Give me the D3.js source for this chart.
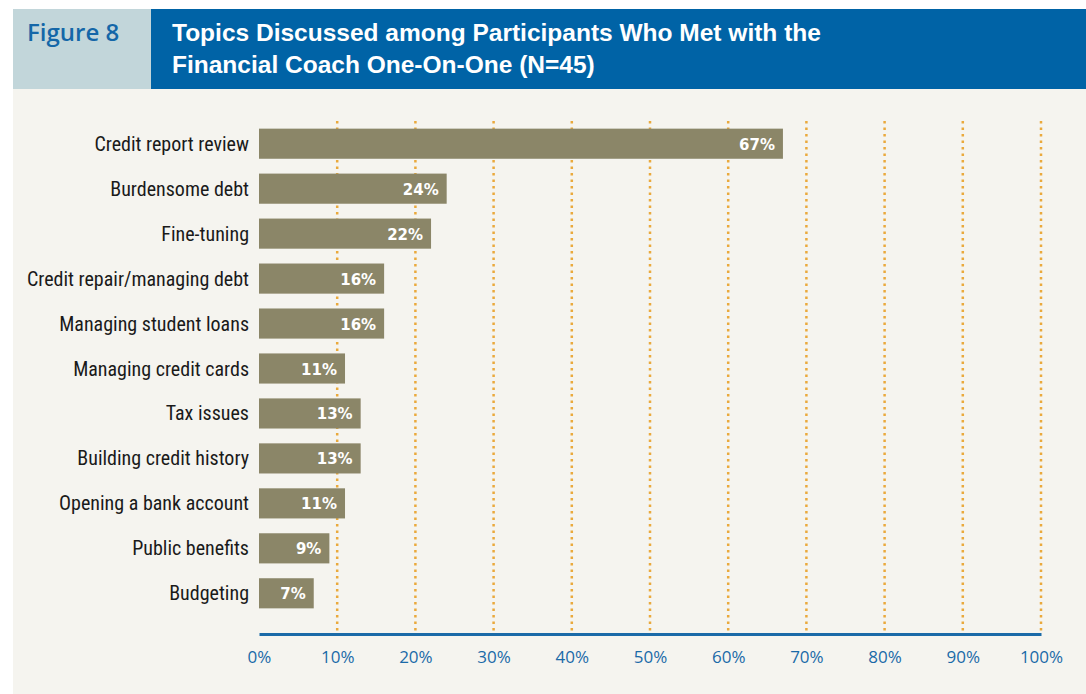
<!DOCTYPE html>
<html>
<head>
<meta charset="utf-8">
<script src="https://cdnjs.cloudflare.com/ajax/libs/d3/7.8.5/d3.min.js"></script>
<style>
  body { margin: 0; background: #ffffff; }
  svg { display: block; }
</style>
</head>
<body>
<div id="chart"></div>
<script>
// data
const topics = ["Credit report review", "Burdensome debt", "Fine-tuning", "Credit repair/managing debt",
  "Managing student loans", "Managing credit cards", "Tax issues", "Building credit history",
  "Opening a bank account", "Public benefits", "Budgeting"];
const shares = [67, 24, 22, 16, 16, 11, 13, 13, 11, 9, 7];
const tickValues = [0, 10, 20, 30, 40, 50, 60, 70, 80, 90, 100];
const titleLines = ["Topics Discussed among Participants Who Met with the",
  "Financial Coach One-On-One (N=45)"];

const width = 1086, height = 694;

var svg = d3.select("#chart").append("svg")
  .attr("width", width)
  .attr("height", height);

//panel background + header
svg.append("rect").attr("x", 13).attr("y", 88).attr("width", width - 13).attr("height", height - 88)
  .attr("fill", "#f5f4ef");
svg.append("rect").attr("x", 13).attr("y", 9).attr("width", 138).attr("height", 80)
  .attr("fill", "#c2d6da");
svg.append("rect").attr("x", 151).attr("y", 9).attr("width", width - 151).attr("height", 80)
  .attr("fill", "#0063a6");

svg.append("text").attr("x", 27).attr("y", 41)
  .attr("font-family", "'Open Sans', sans-serif").attr("font-size", 24).attr("font-weight", 600)
  .attr("fill", "#1467a8").text("Figure 8");

svg.selectAll(".title").data(titleLines).enter().append("text")
  .attr("class", "title")
  .attr("x", 172)
  .attr("y", (d, i) => 41 + i * 32)
  .attr("font-family", "'Liberation Sans', Arial, sans-serif")
  .attr("font-size", 24.5).attr("font-weight", "bold")
  .attr("fill", "#ffffff")
  .text(d => d);

//scales
var x = d3.scaleLinear().domain([0, 100]).range([259, 1041]);
var y = d3.scaleBand().domain(topics).range([121, 616]).paddingInner(0.33).paddingOuter(0.17);

//dotted gridlines
svg.selectAll(".grid").data(tickValues.slice(1)).enter().append("line")
  .attr("class", "grid")
  .attr("x1", d => x(d)).attr("x2", d => x(d))
  .attr("y1", 121).attr("y2", 632)
  .attr("stroke", "#eaa93c").attr("stroke-width", 2.5)
  .attr("stroke-dasharray", "2.5,4");

//bars
svg.selectAll(".bar").data(topics).enter().append("rect")
  .attr("class", "bar")
  .attr("x", x(0))
  .attr("y", d => y(d))
  .attr("width", (d, i) => x(shares[i]) - x(0))
  .attr("height", y.bandwidth())
  .attr("fill", "#8b8668");

svg.selectAll(".val").data(topics).enter().append("text")
  .attr("class", "val")
  .attr("x", (d, i) => x(shares[i]) - 8)
  .attr("y", d => y(d) + y.bandwidth() / 2 + 6)
  .attr("text-anchor", "end")
  .attr("font-family", "'DejaVu Sans', sans-serif").attr("font-size", 15).attr("font-weight", "bold")
  .attr("fill", "#ffffff")
  .text((d, i) => shares[i] + "%");

//category labels
svg.selectAll(".cat").data(topics).enter().append("text")
  .attr("class", "cat")
  .attr("x", 249)
  .attr("y", d => y(d) + y.bandwidth() / 2 + 7)
  .attr("text-anchor", "end")
  .attr("font-family", "'Liberation Sans Narrow', 'Roboto Condensed', 'Liberation Sans', sans-serif")
  .attr("font-size", 20)
  .attr("fill", "#1a1a1a")
  .text(d => d);

//axis
var xAxis = d3.axisBottom(x).tickValues(tickValues).tickSize(0).tickFormat(d => d + "%");
var gx = svg.append("g").attr("transform", "translate(0,634)").call(xAxis);
gx.select(".domain").attr("stroke", "#1a6aa8").attr("stroke-width", 3);
gx.selectAll("text")
  .attr("dy", 0).attr("y", 29)
  .attr("font-family", "'Open Sans', sans-serif").attr("font-size", 17)
  .attr("fill", "#1a6aa8");
</script>
</body>
</html>
